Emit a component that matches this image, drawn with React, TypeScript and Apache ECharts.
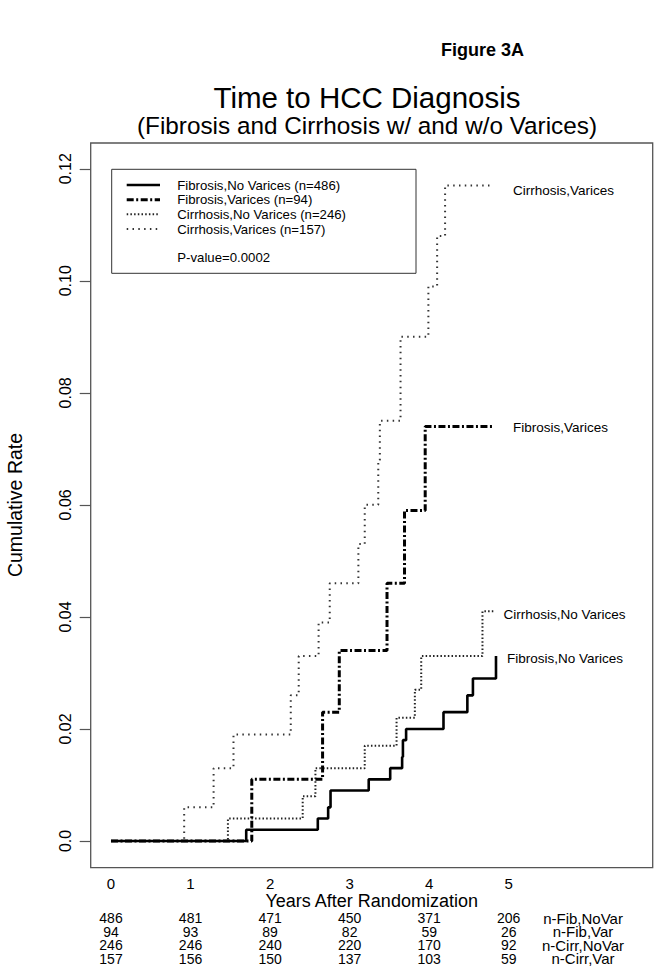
import React, { useEffect, useRef } from "react";
import * as echarts from "echarts";

// ---- data ----
const fibNoVarTimes = [0, 1.7, 2.6, 2.73, 2.76, 3.24, 3.51, 3.66, 3.67, 3.71, 4.18, 4.48, 4.55, 4.84];
const fibNoVarRates = [0, 0.002, 0.004, 0.006, 0.009, 0.011, 0.013, 0.015, 0.018, 0.02, 0.023, 0.026, 0.029, 0.033];

const fibVarTimes = [0, 1.77, 2.66, 2.87, 3.47, 3.69, 3.95, 4.81];
const fibVarRates = [0, 0.011, 0.023, 0.034, 0.046, 0.059, 0.074, 0.074];

const cirrNoVarTimes = [0, 1.47, 2.41, 2.57, 3.19, 3.59, 3.82, 3.9, 4.67, 4.83];
const cirrNoVarRates = [0, 0.004, 0.008, 0.013, 0.017, 0.022, 0.027, 0.033, 0.041, 0.041];

const cirrVarTimes = [0, 0.92, 1.29, 1.54, 2.26, 2.36, 2.61, 2.75, 3.11, 3.19, 3.36, 3.38, 3.64, 3.99, 4.1, 4.2, 4.81];
const cirrVarRates = [0, 0.006, 0.013, 0.019, 0.026, 0.033, 0.039, 0.046, 0.053, 0.06, 0.068, 0.075, 0.09, 0.099, 0.108, 0.117, 0.117];

const yearTicks = [0, 1, 2, 3, 4, 5];
const rateTicks = [0, 0.02, 0.04, 0.06, 0.08, 0.1, 0.12];

const legendNames = [
  "Fibrosis,No Varices (n=486)",
  "Fibrosis,Varices (n=94)",
  "Cirrhosis,No Varices (n=246)",
  "Cirrhosis,Varices (n=157)",
];
const curveLabels = ["Fibrosis,No Varices", "Fibrosis,Varices", "Cirrhosis,No Varices", "Cirrhosis,Varices"];

const riskRowLabels = ["n-Fib,NoVar", "n-Fib,Var", "n-Cirr,NoVar", "n-Cirr,Var"];
const riskFibNoVar = [486, 481, 471, 450, 371, 206];
const riskFibVar = [94, 93, 89, 82, 59, 26];
const riskCirrNoVar = [246, 246, 240, 220, 170, 92];
const riskCirrVar = [157, 156, 150, 137, 103, 59];

const FONT = "'Liberation Sans', Arial, Helvetica, sans-serif";

const zip = (t: number[], r: number[]) => t.map((v, i) => [v, r[i]]);

const styles = [
  { color: "#000", width: 2.6, type: "solid" as any },
  { color: "#000", width: 3, type: [7, 2.5, 2, 2.5] as any },
  { color: "#222", width: 2, type: [1.5, 2.2] as any },
  { color: "#333", width: 2, type: [1.5, 4.3] as any },
];

export default function App() {
  const ref = useRef<HTMLDivElement>(null);
  useEffect(() => {
    const chart = echarts.init(ref.current!, null, { renderer: "svg" });
    const xMin = -0.255, xMax = 6.81, yMin = -0.00477, yMax = 0.1246;
    const seriesData = [
      zip(fibNoVarTimes, fibNoVarRates),
      zip(fibVarTimes, fibVarRates),
      zip(cirrNoVarTimes, cirrNoVarRates),
      zip(cirrVarTimes, cirrVarRates),
    ];
    chart.setOption({
      animation: false,
      backgroundColor: "#fff",
      textStyle: { fontFamily: FONT },
      grid: {
        left: 90.7, top: 143, right: 4.3, bottom: 107.3,
        show: true, borderColor: "#555", borderWidth: 1.3, backgroundColor: "transparent",
      },
      xAxis: {
        type: "value", min: xMin, max: xMax, position: "bottom",
        axisLine: { show: false, onZero: false }, splitLine: { show: false },
        axisTick: { show: false },
        axisLabel: {
          customValues: yearTicks, fontSize: 15, color: "#000", margin: 8, fontFamily: FONT,
          formatter: (v: number) => String(v),
        },
      },
      yAxis: {
        type: "value", min: yMin, max: yMax, position: "left",
        axisLine: { show: false, onZero: false }, splitLine: { show: false },
        axisTick: { show: true, inside: false, customValues: rateTicks, length: 11, lineStyle: { color: "#555", width: 1.2 } },
        axisLabel: {
          customValues: rateTicks, rotate: 90, fontSize: 16, color: "#000", margin: 17, fontFamily: FONT,
          formatter: (v: number) => (v === 0 ? "0.0" : v.toFixed(2)),
        },
      },
      series: seriesData.map((d, i) => ({
        type: "line", step: "end", data: d, showSymbol: false, symbol: "none",
        lineStyle: styles[i], itemStyle: { color: styles[i].color }, z: 10 - i,
      })),
    });

    const px = (t: number) => (chart.convertToPixel({ xAxisIndex: 0 }, t) as number);
    const riskRows = [riskFibNoVar, riskFibVar, riskCirrNoVar, riskCirrVar];
    const rowY = [918, 931.5, 945, 958.5];
    const graphics: any[] = [];
    graphics.push({ type: "text", x: 441, y: 50, style: { text: "Figure 3A", font: `bold 18px ${FONT}`, fill: "#000", verticalAlign: "middle" } });
    graphics.push({ type: "text", x: 367, y: 97, style: { text: "Time to HCC Diagnosis", font: `29.5px ${FONT}`, fill: "#000", align: "center", verticalAlign: "middle" } });
    graphics.push({ type: "text", x: 367, y: 125, style: { text: "(Fibrosis and Cirrhosis w/ and w/o Varices)", font: `24.3px ${FONT}`, fill: "#000", align: "center", verticalAlign: "middle" } });
    graphics.push({ type: "text", x: 15, y: 505, rotation: Math.PI / 2, style: { text: "Cumulative Rate", font: `19.5px ${FONT}`, fill: "#000", align: "center", verticalAlign: "middle" } });
    graphics.push({ type: "text", x: 371.7, y: 901, style: { text: "Years After Randomization", font: `18px ${FONT}`, fill: "#000", align: "center", verticalAlign: "middle" } });

    // legend box
    graphics.push({ type: "rect", shape: { x: 111.7, y: 169.3, width: 304.3, height: 104 }, style: { fill: "#fff", stroke: "#333", lineWidth: 1 }, z: 20 });
    const legY = [185, 199.7, 214.3, 229];
    legendNames.forEach((n, i) => {
      graphics.push({ type: "line", shape: { x1: 126.7, y1: legY[i], x2: 160, y2: legY[i] }, style: { stroke: styles[i].color, lineWidth: styles[i].width, lineDash: styles[i].type === "solid" ? null : styles[i].type }, z: 21 });
      graphics.push({ type: "text", x: 177.3, y: legY[i], style: { text: n, font: `13.2px ${FONT}`, fill: "#000", verticalAlign: "middle" }, z: 21 });
    });
    graphics.push({ type: "text", x: 177.3, y: 257, style: { text: "P-value=0.0002", font: `13.2px ${FONT}`, fill: "#000", verticalAlign: "middle" }, z: 21 });

    // curve labels
    const labPos = [[507, 658], [513, 427], [503.5, 614], [513, 190]];
    curveLabels.forEach((n, i) => {
      graphics.push({ type: "text", x: labPos[i][0], y: labPos[i][1], style: { text: n, font: `13.5px ${FONT}`, fill: "#000", verticalAlign: "middle" } });
    });

    // number at risk table
    riskRows.forEach((row, r) => {
      row.forEach((v, k) => {
        graphics.push({ type: "text", x: px(yearTicks[k]), y: rowY[r], style: { text: String(v), font: `14px ${FONT}`, fill: "#000", align: "center", verticalAlign: "middle" } });
      });
      graphics.push({ type: "text", x: 583, y: rowY[r], style: { text: riskRowLabels[r], font: `15px ${FONT}`, fill: "#000", align: "center", verticalAlign: "middle" } });
    });

    chart.setOption({ graphic: graphics });
    return () => chart.dispose();
  }, []);
  return <div ref={ref} style={{ position: "absolute", left: 0, top: 0, width: 657, height: 975 }} />;
}
